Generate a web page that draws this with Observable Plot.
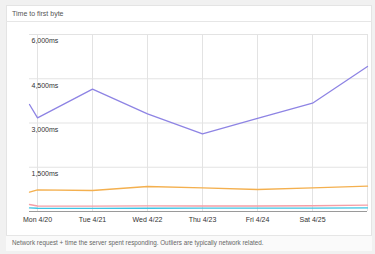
<!DOCTYPE html>
<html><head><meta charset="utf-8">
<script src="https://cdn.jsdelivr.net/npm/d3@7"></script>
<script src="https://cdn.jsdelivr.net/npm/@observablehq/plot@0.6"></script>
<style>
html,body{margin:0;padding:0;background:#f1f1f1;width:375px;height:254px;overflow:hidden;font-family:"Liberation Sans",Arial,sans-serif;}
#card{position:absolute;left:6px;top:5px;width:366px;height:246px;background:#fff;border:1px solid #e4e4e4;box-sizing:border-box;}
#titlesep{position:absolute;left:6px;top:21px;width:366px;height:1px;background:#e6e6e6;}
#footer{position:absolute;left:6px;top:235px;width:366px;height:16px;background:#fafafa;border-top:1px solid #e6e6e6;box-sizing:border-box;}
#title{position:absolute;left:12px;top:8px;font-size:7px;line-height:12px;color:#555;}
#caption{position:absolute;left:12px;top:237px;font-size:6.3px;line-height:12px;color:#666;white-space:nowrap;}
#chart{position:absolute;left:0;top:0;}
</style></head>
<body>
<div id="card"></div>
<div id="titlesep"></div>
<div id="footer"></div>
<div id="title">Time to first byte</div>
<div id="chart"></div>
<div id="caption">Network request + time the server spent responding. Outliers are typically network related.</div>
<script>
const dates = ["2015-04-19T20:30Z","2015-04-20T00:00Z","2015-04-21T00:00Z","2015-04-22T00:00Z","2015-04-23T00:00Z","2015-04-24T00:00Z","2015-04-25T00:00Z","2015-04-26T00:00Z"];
const seriesD = [3627, 3176, 4146, 3312, 2634, 3153, 3671, 4915];
const seriesC = [654, 736, 712, 847, 803, 746, 803, 858];
const seriesB = [237, 186, 183, 188, 186, 186, 195, 214];
const seriesA = [120, 110, 108, 110, 112, 112, 116, 122];
const seriesNames = ["A","B","C","D"];
const seriesColors = ["#3cc4e4","#f59ea6","#f4b04f","#8e84e4"];
const tickDays = ["2015-04-20T00:00Z","2015-04-21T00:00Z","2015-04-22T00:00Z","2015-04-23T00:00Z","2015-04-24T00:00Z","2015-04-25T00:00Z"];
const tickLabels = ["Mon 4/20","Tue 4/21","Wed 4/22","Thu 4/23","Fri 4/24","Sat 4/25"];
const gridDays = [...tickDays, "2015-04-26T00:00Z"];
const yTicks = [1500, 3000, 4500, 6000];

const vals = {A: seriesA, B: seriesB, C: seriesC, D: seriesD};
const rows = [];
for (const s of seriesNames) vals[s].forEach((v, i) => rows.push({series: s, date: new Date(dates[i]), value: v}));
const tickDates = tickDays.map(d => new Date(d));
const labelMap = new Map(tickDates.map((d, i) => [d.getTime(), tickLabels[i]]));
const fmt = d3.format(",");

const chart = Plot.plot({
  width: 375, height: 254,
  marginLeft: 29, marginRight: 8, marginTop: 34, marginBottom: 43,
  style: {background: "transparent", fontFamily: "Liberation Sans, Arial, sans-serif", fontSize: "7px", color: "#333"},
  x: {type: "utc", domain: [new Date(dates[0]), new Date(dates[dates.length - 1])], label: null},
  y: {domain: [0, 6000], label: null},
  color: {domain: seriesNames, range: seriesColors},
  marks: [
    Plot.gridX(gridDays.map(d => new Date(d)), {stroke: "#e3e3e3", strokeOpacity: 1}),
    Plot.gridY(yTicks, {stroke: "#e3e3e3", strokeOpacity: 1}),
    Plot.ruleY([0], {stroke: "#9a9a9a"}),
    Plot.axisX(tickDates, {tickSize: 0, tickPadding: 6, tickFormat: d => labelMap.get(d.getTime()), fill: "#333"}),
    Plot.axisY(yTicks, {anchor: "left", tickSize: 0, tickPadding: 0, textAnchor: "start", dx: 2, dy: 6.5, tickFormat: d => fmt(d) + "ms", fill: "#333"}),
    Plot.line(rows, {x: "date", y: "value", z: "series", stroke: "series", strokeWidth: 1.3})
  ]
});
document.getElementById("chart").appendChild(chart);
</script>
</body></html>
